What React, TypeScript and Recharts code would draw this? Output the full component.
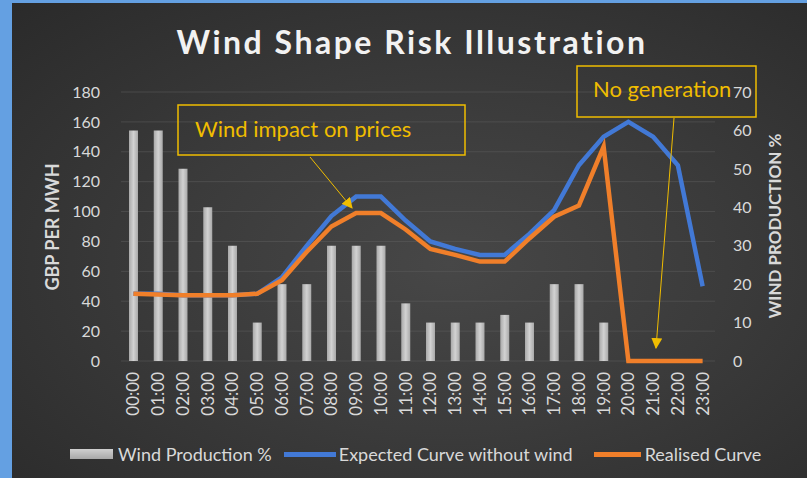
import React from "react";
import {
  ComposedChart,
  Bar,
  Line,
  XAxis,
  YAxis,
  CartesianGrid,
  Legend,
} from "recharts";

const hours = [
  "00:00", "01:00", "02:00", "03:00", "04:00", "05:00", "06:00", "07:00",
  "08:00", "09:00", "10:00", "11:00", "12:00", "13:00", "14:00", "15:00",
  "16:00", "17:00", "18:00", "19:00", "20:00", "21:00", "22:00", "23:00",
];
const windProduction = [60, 60, 50, 40, 30, 10, 20, 20, 30, 30, 30, 15, 10, 10, 10, 12, 10, 20, 20, 10, 0, 0, 0, 0];
const expectedCurve = [45, 45, 44, 44, 44, 45, 56, 77, 97, 110, 110, 94, 80, 75, 71, 71, 85, 101, 131, 150, 160, 150, 131, 50];
const realisedCurve = [45, 44.5, 44, 44, 44, 45, 54, 73, 90, 99, 99, 88, 75, 71, 66.5, 66.5, 82, 96.5, 104, 143.5, 0, 0, 0, 0];
const priceTicks = [0, 20, 40, 60, 80, 100, 120, 140, 160, 180];
const windTicks = [0, 10, 20, 30, 40, 50, 60, 70];

const FONT = "Lato, 'Open Sans', sans-serif";
const GOLD = "#f0bd00";
const BLUE = "#4279d6";
const ORANGE = "#f07f2a";

const data = hours.map((hour, i) => ({
  hour,
  wind: windProduction[i],
  expected: expectedCurve[i],
  realised: realisedCurve[i],
}));

// rotated hour labels under the bars
const HourTick = (props: any) => {
  const { x, y, payload } = props;
  return (
    <text
      transform={`translate(${x},${y + 11}) rotate(-90)`}
      textAnchor="end"
      dy="0.35em"
      fill="#d9d9d9"
      fontSize={17}
      fontFamily={FONT}
    >
      {payload.value}
    </text>
  );
};

const LegendContent = () => (
  <div
    style={{
      display: "flex",
      alignItems: "center",
      fontFamily: FONT,
      fontSize: 18,
      color: "#d9d9d9",
      whiteSpace: "nowrap",
    }}
  >
    <span
      style={{
        width: 43,
        height: 10,
        background: "linear-gradient(#d0d0d0, #a8a8a8)",
        marginRight: 5,
      }}
    />
    <span style={{ marginRight: 12 }}>Wind Production %</span>
    <span style={{ width: 52, height: 5, background: BLUE, marginRight: 3 }} />
    <span style={{ marginRight: 21 }}>Expected Curve without wind</span>
    <span style={{ width: 47, height: 5, background: ORANGE, marginRight: 4 }} />
    <span>Realised Curve</span>
  </div>
);

export default function App() {
  return (
    <div
      style={{
        position: "fixed",
        left: 0,
        top: 0,
        width: 807,
        height: 478,
        background: "#64a0e2",
        overflow: "hidden",
      }}
    >
      <div
        style={{
          position: "absolute",
          left: 12,
          top: 3,
          width: 795,
          height: 475,
          background:
            "radial-gradient(ellipse at 55% 55%, #474747 0%, #3b3b3b 45%, #2a2a2a 100%)",
        }}
      >
        <ComposedChart
          width={795}
          height={475}
          data={data}
          margin={{ top: 89, right: 32, left: 49, bottom: 57 }}
          barCategoryGap={0}
        >
          <defs>
            <linearGradient id="barFill" x1="0" y1="0" x2="1" y2="0">
              <stop offset="0%" stopColor="#a9a9a9" />
              <stop offset="50%" stopColor="#d2d2d2" />
              <stop offset="100%" stopColor="#a9a9a9" />
            </linearGradient>
          </defs>
          <CartesianGrid
            yAxisId="price"
            vertical={false}
            stroke="#5c5c5c"
            strokeOpacity={0.55}
          />
          <XAxis
            dataKey="hour"
            interval={0}
            axisLine={false}
            tickLine={false}
            tickSize={0}
            tickMargin={0}
            height={60}
            tick={<HourTick />}
          />
          <YAxis
            yAxisId="price"
            orientation="left"
            domain={[0, 180]}
            ticks={priceTicks}
            width={60}
            axisLine={false}
            tickLine={false}
            tickSize={0}
            tickMargin={21}
            tick={{ fill: "#d9d9d9", fontSize: 16, fontFamily: FONT }}
          />
          <YAxis
            yAxisId="wind"
            orientation="right"
            domain={[0, 70]}
            ticks={windTicks}
            width={60}
            axisLine={false}
            tickLine={false}
            tickSize={0}
            tickMargin={18}
            tick={{ fill: "#d9d9d9", fontSize: 16, fontFamily: FONT, textAnchor: "start" }}
          />
          <Bar
            yAxisId="wind"
            dataKey="wind"
            name="Wind Production %"
            fill="url(#barFill)"
            barSize={9}
            isAnimationActive={false}
          />
          <Line
            yAxisId="price"
            dataKey="expected"
            name="Expected Curve without wind"
            type="linear"
            stroke={BLUE}
            strokeWidth={4.5}
            dot={false}
            isAnimationActive={false}
          />
          <Line
            yAxisId="price"
            dataKey="realised"
            name="Realised Curve"
            type="linear"
            stroke={ORANGE}
            strokeWidth={4.5}
            dot={false}
            isAnimationActive={false}
          />
          <Legend
            layout="vertical"
            align="center"
            verticalAlign="middle"
            content={<LegendContent />}
            wrapperStyle={{ left: 58, top: 440, width: 730 }}
          />
        </ComposedChart>

        {/* title, axis titles and the two call-outs */}
        <svg
          width={795}
          height={475}
          style={{ position: "absolute", left: 0, top: 0, pointerEvents: "none" }}
        >
          <defs>
            <marker
              id="arrowHead"
              viewBox="0 0 10 10"
              refX="9"
              refY="5"
              markerWidth="11"
              markerHeight="11"
              orient="auto"
              markerUnits="userSpaceOnUse"
            >
              <path d="M0,0 L10,5 L0,10 z" fill={GOLD} />
            </marker>
          </defs>
          <text
            x={400}
            y={51}
            textAnchor="middle"
            fill="#f2f2f2"
            fontSize={32}
            fontWeight="bold"
            letterSpacing={2.5}
            fontFamily={FONT}
          >
            Wind Shape Risk Illustration
          </text>
          <text
            transform="translate(47,224) rotate(-90)"
            textAnchor="middle"
            fill="#d9d9d9"
            fontSize={18}
            fontWeight="bold"
            fontFamily={FONT}
          >
            GBP PER MWH
          </text>
          <text
            transform="translate(769,223) rotate(-90)"
            textAnchor="middle"
            fill="#d9d9d9"
            fontSize={17}
            fontWeight="bold"
            fontFamily={FONT}
          >
            WIND PRODUCTION %
          </text>

          <rect x={166} y={102} width={287} height={50} fill="none" stroke={GOLD} strokeWidth={1.5} />
          <text x={183} y={134} fill={GOLD} fontSize={22} fontFamily={FONT}>
            Wind impact on prices
          </text>
          <line
            x1={298}
            y1={154}
            x2={340}
            y2={205}
            stroke={GOLD}
            strokeWidth={1}
            markerEnd="url(#arrowHead)"
          />

          <rect x={565} y={63} width={179} height={51} fill="none" stroke={GOLD} strokeWidth={1.5} />
          <text x={581} y={94} fill={GOLD} fontSize={22} fontFamily={FONT}>
            No generation
          </text>
          <line
            x1={662}
            y1={115}
            x2={644}
            y2={345}
            stroke={GOLD}
            strokeWidth={1}
            markerEnd="url(#arrowHead)"
          />
        </svg>
      </div>
    </div>
  );
}
